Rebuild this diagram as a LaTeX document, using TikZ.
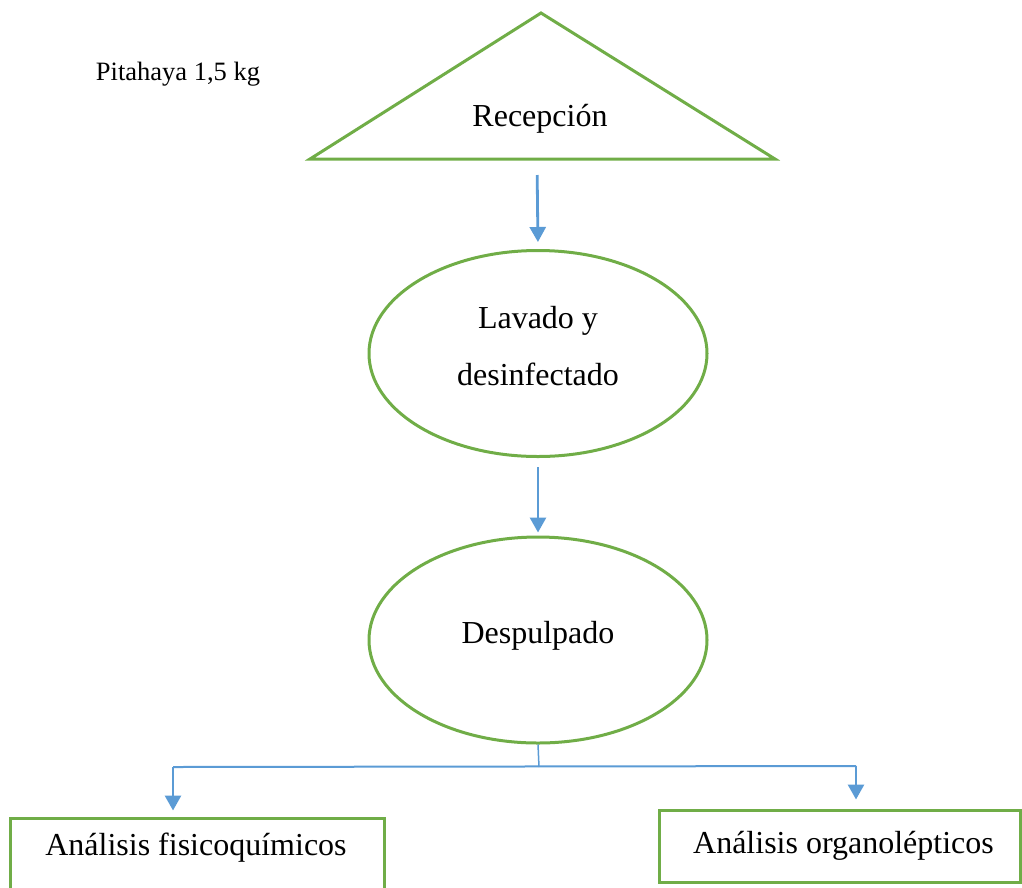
\documentclass[tikz,border=0pt]{standalone}
\usepackage{fontspec}
\setmainfont{Liberation Serif}
\usepackage{xcolor}
\usepackage{tikz}
\usetikzlibrary{shapes.geometric,arrows.meta}
\definecolor{verdeOffice}{HTML}{70AD47}
\definecolor{azulOffice}{HTML}{5B9BD5}
\newcommand{\textoGrande}{\fontsize{32}{57}\selectfont}
\newcommand{\textoChico}{\fontsize{26.5}{28}\selectfont}

\begin{document}
\begin{tikzpicture}[x=1pt,y=-1pt,
	etapa/.style={ellipse,draw=verdeOffice,line width=3pt,minimum width=338pt,minimum height=206pt,inner sep=0pt,align=center,text depth=15pt,font=\textoGrande},
	caja/.style={rectangle,draw=verdeOffice,line width=3pt,inner sep=0pt,font=\textoGrande},
	flecha/.style={draw=azulOffice,line width=2.8pt,-{Triangle[width=16pt,length=15pt]}},
	rama/.style={draw=azulOffice,line width=2pt}]
	\useasboundingbox (0,0) rectangle (1022,887);

	% recepcion
	\coordinate (recTop) at (541,13);
	\coordinate (recIzq) at (310,159);
	\coordinate (recDer) at (775,159);
	\coordinate (recBase) at (537,159);
	\draw[draw=verdeOffice,line width=3pt,line join=miter] (recTop) -- (recDer) -- (recIzq) -- cycle;
	\node[font=\textoGrande] (rec) at (540,119) {Recepción};
	\node[font=\textoChico] (pit) at (178,74) {Pitahaya 1,5 kg};

	\node[etapa] (lav) at (538,353.5) {Lavado y\\desinfectado};
	\node[etapa] (des) at (538,640) {Despulpado};

	\node[caja,minimum width=374pt,minimum height=76pt] (fisBox) at (197,856) {};
	\node[font=\textoGrande] (fis) at (196,848) {Análisis fisicoquímicos};
	\node[caja,minimum width=361pt,minimum height=72pt] (org) at (839.5,846) {\hspace{8pt}Análisis organolépticos};

	\draw[flecha,shorten <=16pt,shorten >=7pt] (recBase) -- (lav.north);
	\draw[flecha,shorten <=9pt,shorten >=3pt] (lav.south) -- (des.north);

	% ramas
	\coordinate (split) at (539,767);
	\coordinate (ramaIzq) at (173,767);
	\coordinate (ramaDer) at (856,766);
	\draw[rama,line width=1.5pt] (des.south) -- (split);
	\draw[rama] (ramaIzq) -- (ramaDer);
	\draw[flecha,shorten >=6pt] (ramaIzq) -- (ramaIzq |- fisBox.north);
	\draw[flecha,shorten >=9pt] (ramaDer) -- (ramaDer |- org.north);
\end{tikzpicture}
\end{document}
